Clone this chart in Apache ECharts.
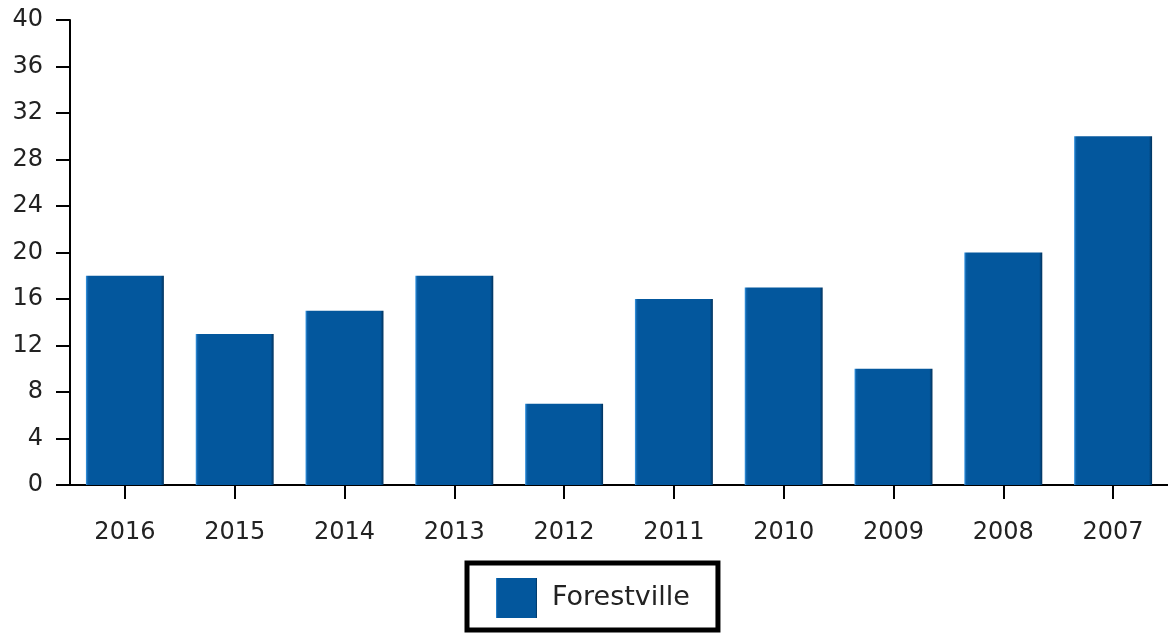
<!DOCTYPE html>
<html>
<head>
<meta charset="utf-8">
<script src="https://cdn.jsdelivr.net/npm/echarts@6/dist/echarts.min.js"></script>
<style>
html,body{margin:0;padding:0;background:#fff;}
#chart{width:1168px;height:633px;}
</style>
</head>
<body>
<div id="chart"></div>
<script>
const categories = ['2016','2015','2014','2013','2012','2011','2010','2009','2008','2007'];
const forestville = [18, 13, 15, 18, 7, 16, 17, 10, 20, 30];
const seriesName = 'Forestville';
const yMin = 0, yMax = 40, yInterval = 4;

const chart = echarts.init(document.getElementById('chart'), null, {renderer:'canvas'});
const barColor = {
  type: 'linear', x: 0, y: 0, x2: 1, y2: 0,
  colorStops: [
    {offset: 0, color: '#3d9be6'},
    {offset: 0.025, color: '#0a5ea6'},
    {offset: 0.05, color: '#03579d'},
    {offset: 0.96, color: '#03579d'},
    {offset: 0.985, color: '#023f73'},
    {offset: 1, color: '#01325c'}
  ]
};
const font = 'DejaVu Sans';
chart.setOption({
  animation: false,
  backgroundColor: '#fff',
  grid: {left: 70, right: 0, top: 20, bottom: 148, containLabel: false},
  xAxis: {
    type: 'category',
    data: categories,
    axisLine: {show: true, lineStyle: {color: '#000', width: 2}},
    axisTick: {show: true, alignWithLabel: true, length: 14, lineStyle: {color: '#000', width: 2}},
    axisLabel: {color: '#222', fontSize: 24, fontFamily: font, margin: 36}
  },
  yAxis: {
    type: 'value',
    min: yMin, max: yMax, interval: yInterval,
    splitLine: {show: false},
    axisLine: {show: true, lineStyle: {color: '#000', width: 2}},
    axisTick: {show: true, length: 14, lineStyle: {color: '#000', width: 2}},
    axisLabel: {color: '#222', fontSize: 24, fontFamily: font, margin: 27}
  },
  legend: {
    data: [seriesName],
    left: 467, top: 563,
    orient: 'horizontal',
    padding: [15, 28, 12, 29],
    itemWidth: 41, itemHeight: 40,
    itemGap: 10,
    icon: 'rect',
    borderColor: '#000', borderWidth: 5,
    textStyle: {color: '#222', fontSize: 27, fontFamily: font, padding: [0, 0, 0, 10]}
  },
  series: [{
    name: seriesName,
    type: 'bar',
    data: forestville,
    barCategoryGap: '29%',
    itemStyle: {color: barColor}
  }]
});
</script>
</body>
</html>
